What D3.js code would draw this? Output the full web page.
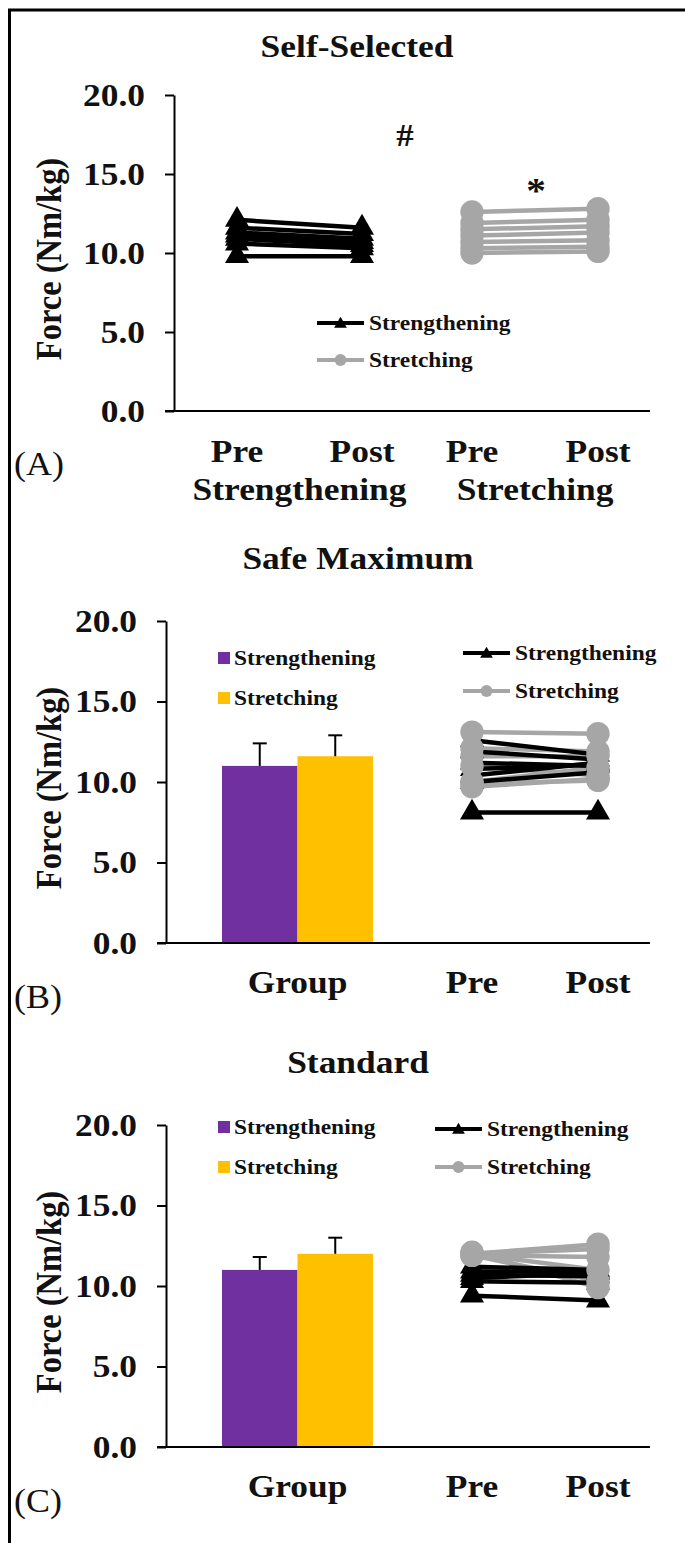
<!DOCTYPE html>
<html>
<head>
<meta charset="utf-8">
<script src="https://cdn.jsdelivr.net/npm/d3@7"></script>
<style>
  html, body { margin: 0; padding: 0; background: #fff; }
  svg { display: block; }
</style>
</head>
<body>
<script>
// ---- data ----
const timepoints = ["Pre", "Post"];
const groups = ["Strengthening", "Stretching"];
const yTicks = [0, 5, 10, 15, 20];

// (A) Self-Selected: individual [pre, post] values, Nm/kg
const selfStrengthening = [[12.1, 11.6], [11.6, 11.2], [11.3, 10.9], [11.1, 10.7], [10.9, 10.5], [10.6, 10.3], [9.8, 9.8]];
const selfStretching = [[12.6, 12.8], [11.9, 12.1], [11.5, 11.7], [11.1, 11.3], [10.7, 10.8], [10.3, 10.4], [10.0, 10.1]];

// (B) Safe Maximum: group means + SD and individual [pre, post]
const safeMeans = [11.0, 11.6];
const safeSD = [1.4, 1.3];
const safeStrengthening = [[12.6, 11.7], [11.9, 11.4], [11.2, 11.0], [10.8, 11.1], [10.4, 11.2], [10.0, 10.6], [8.1, 8.1]];
const safeStretching = [[13.1, 13.0], [12.1, 11.9], [11.6, 11.6], [11.0, 10.4], [10.0, 10.9], [9.7, 10.2], [9.9, 10.1]];

// (C) Standard
const standardMeans = [11.0, 12.0];
const standardSD = [0.8, 1.0];
const standardStrengthening = [[11.2, 11.0], [10.9, 10.9], [10.7, 10.6], [10.5, 10.8], [10.3, 10.2], [9.4, 9.1]];
const standardStretching = [[12.0, 12.6], [12.0, 12.3], [11.9, 11.8], [12.0, 11.0], [11.9, 10.3], [12.1, 9.9]];

// ---- styling ----
const W = 685, H = 1543;
const SERIF = "'Liberation Serif', 'Times New Roman', serif";
const SX = 1.09;                     // horizontal stretch of the lettering
const BLACK = "#000";
const GREY = "#a6a6a6";
const PURPLE = "#7030a0";
const GOLD = "#ffc000";
const triSym = d3.symbol().type(d3.symbolTriangle).size(250);
const dotSym = d3.symbol().type(d3.symbolCircle).size(430);
const triSmall = d3.symbol().type(d3.symbolTriangle).size(70);
const dotSmall = d3.symbol().type(d3.symbolCircle).size(110);

const svg = d3.select("body").append("svg")
  .attr("width", W).attr("height", H)
  .attr("viewBox", `0 0 ${W} ${H}`);
svg.append("rect").attr("width", W).attr("height", H).attr("fill", "#fff");

// frame
svg.append("path").attr("d", `M9.5,${H}V10H${W}`)
  .attr("fill", "none").attr("stroke", BLACK).attr("stroke-width", 3);

function label(g, x, y, str, o = {}) {
  const rot = o.rotate ? ` rotate(${o.rotate})` : "";
  return g.append("text")
    .attr("transform", `translate(${x},${y}) scale(${SX},1)${rot}`)
    .attr("text-anchor", o.anchor || "middle")
    .style("font-family", SERIF)
    .style("font-size", (o.size || 32.5) + "px")
    .style("font-weight", o.weight || "bold")
    .attr("fill", "#111")
    .text(str);
}

function axes(g, y, x0, x1) {
  const ax = g.append("g").attr("transform", `translate(${x0},0)`)
    .call(d3.axisLeft(y).tickValues(yTicks).tickFormat(d3.format(".1f"))
      .tickSize(9).tickSizeOuter(0).tickPadding(20));
  ax.select(".domain").attr("stroke", BLACK).attr("stroke-width", 2);
  ax.selectAll(".tick line").attr("stroke", BLACK).attr("stroke-width", 2);
  ax.selectAll(".tick text").each(function () {
    const t = d3.select(this);
    const x = +t.attr("x");
    t.attr("x", 0).attr("transform", `translate(${x},0) scale(${SX},1)`);
  })
    .style("font-family", SERIF).style("font-size", "32.5px")
    .style("font-weight", "bold").attr("fill", "#111");
  g.append("line").attr("x1", x0 - 9).attr("x2", x1)
    .attr("y1", y(0)).attr("y2", y(0))
    .attr("stroke", BLACK).attr("stroke-width", 2);
  const mid = (y(0) + y(20)) / 2 + 6;
  label(g, 61, mid, "Force (Nm/kg)", { size: 32.5, rotate: -90 });
}

function pairs(g, data, x, y, color, sym) {
  const line = d3.line().x((d, i) => x(timepoints[i])).y(d => y(d));
  g.append("g").selectAll("path").data(data).join("path")
    .attr("d", d => line(d))
    .attr("fill", "none").attr("stroke", color).attr("stroke-width", 4.5);
  return () => {
    const pts = data.flatMap(d => d.map((v, i) => ({ t: timepoints[i], v })));
    g.append("g").selectAll("path").data(pts).join("path")
      .attr("transform", p => `translate(${x(p.t)},${y(p.v)})`)
      .attr("d", sym).attr("fill", color);
  };
}

function lineLegend(g, x, y0, gap) {
  const items = [
    { name: groups[0], color: BLACK, sym: triSmall },
    { name: groups[1], color: GREY, sym: dotSmall }
  ];
  items.forEach((it, i) => {
    const yy = y0 + i * gap;
    g.append("line").attr("x1", x).attr("x2", x + 47).attr("y1", yy).attr("y2", yy)
      .attr("stroke", it.color).attr("stroke-width", 4);
    g.append("path").attr("transform", `translate(${x + 23.5},${yy + (i ? 0 : 1)})`)
      .attr("d", it.sym).attr("fill", it.color);
    label(g, x + 52, yy + 7, it.name, { size: 21.5, anchor: "start" });
  });
}

function barLegend(g, x, y0, gap) {
  [PURPLE, GOLD].forEach((c, i) => {
    const yy = y0 + i * gap;
    g.append("rect").attr("x", x).attr("y", yy - 6).attr("width", 12).attr("height", 12).attr("fill", c);
    label(g, x + 16, yy + 7, groups[i], { size: 21.5, anchor: "start" });
  });
}

// ---------- (A) Self-Selected ----------
{
  const g = svg.append("g");
  const y = d3.scaleLinear().domain([0, 20]).range([411, 95]);
  const xStr = d3.scalePoint().domain(timepoints).range([237, 362]);
  const xStt = d3.scalePoint().domain(timepoints).range([472, 598]);
  label(g, 357, 57, "Self-Selected");
  axes(g, y, 174, 650);
  const a1 = pairs(g, selfStrengthening, xStr, y, BLACK, triSym);
  const a2 = pairs(g, selfStretching, xStt, y, GREY, dotSym);
  a1(); a2();
  label(g, 405, 146, "#", { size: 32 });
  label(g, 536, 203, "*", { size: 36 });
  lineLegend(g, 317, 323, 37);
  timepoints.forEach(t => {
    label(g, xStr(t), 462, t);
    label(g, xStt(t), 462, t);
  });
  label(g, (xStr("Pre") + xStr("Post")) / 2, 500, groups[0]);
  label(g, (xStt("Pre") + xStt("Post")) / 2, 500, groups[1]);
  label(g, 14, 475, "(A)", { size: 33, weight: "normal", anchor: "start" });
}

// ---------- (B) and (C): group bars + individual lines ----------
function barPanel(cfg) {
  const g = svg.append("g");
  const y = d3.scaleLinear().domain([0, 20]).range([cfg.y0, cfg.y0 - 322]);
  const xBar = d3.scaleBand().domain(groups).range([222, 373]);
  const xTime = d3.scalePoint().domain(timepoints).range([472, 598]);
  label(g, 358, cfg.y0 - 374, cfg.title);
  axes(g, y, 166, 650);

  g.append("g").selectAll("rect").data(groups).join("rect")
    .attr("x", d => xBar(d)).attr("width", xBar.bandwidth())
    .attr("y", (d, i) => y(cfg.means[i]))
    .attr("height", (d, i) => y(0) - y(cfg.means[i]))
    .attr("fill", (d, i) => [PURPLE, GOLD][i]);
  groups.forEach((d, i) => {
    const cx = xBar(d) + xBar.bandwidth() / 2;
    const top = y(cfg.means[i] + cfg.sd[i]);
    g.append("line").attr("x1", cx).attr("x2", cx)
      .attr("y1", y(cfg.means[i])).attr("y2", top)
      .attr("stroke", BLACK).attr("stroke-width", 2);
    g.append("line").attr("x1", cx - 7).attr("x2", cx + 7)
      .attr("y1", top).attr("y2", top)
      .attr("stroke", BLACK).attr("stroke-width", 2);
  });
  // redraw x axis over bar bottoms
  g.append("line").attr("x1", 157).attr("x2", 650)
    .attr("y1", y(0)).attr("y2", y(0)).attr("stroke", BLACK).attr("stroke-width", 2);

  const grey = pairs(g, cfg.stretching, xTime, y, GREY, dotSym);
  const black = pairs(g, cfg.strengthening, xTime, y, BLACK, triSym);
  black(); grey();

  barLegend(g, 218, cfg.barLegendY, 40);
  lineLegend(g, cfg.lineLegendX, cfg.lineLegendY, 38);

  label(g, (xBar.range()[0] + xBar.range()[1]) / 2, cfg.y0 + 50, "Group");
  timepoints.forEach(t => label(g, xTime(t), cfg.y0 + 50, t));
  label(g, 14, cfg.y0 + 65, cfg.tag, { size: 33, weight: "normal", anchor: "start" });
}

barPanel({
  title: "Safe Maximum", tag: "(B)", y0: 943,
  means: safeMeans, sd: safeSD,
  strengthening: safeStrengthening, stretching: safeStretching,
  barLegendY: 658, lineLegendX: 463, lineLegendY: 653
});

barPanel({
  title: "Standard", tag: "(C)", y0: 1447,
  means: standardMeans, sd: standardSD,
  strengthening: standardStrengthening, stretching: standardStretching,
  barLegendY: 1127, lineLegendX: 435, lineLegendY: 1129
});
</script>
</body>
</html>
